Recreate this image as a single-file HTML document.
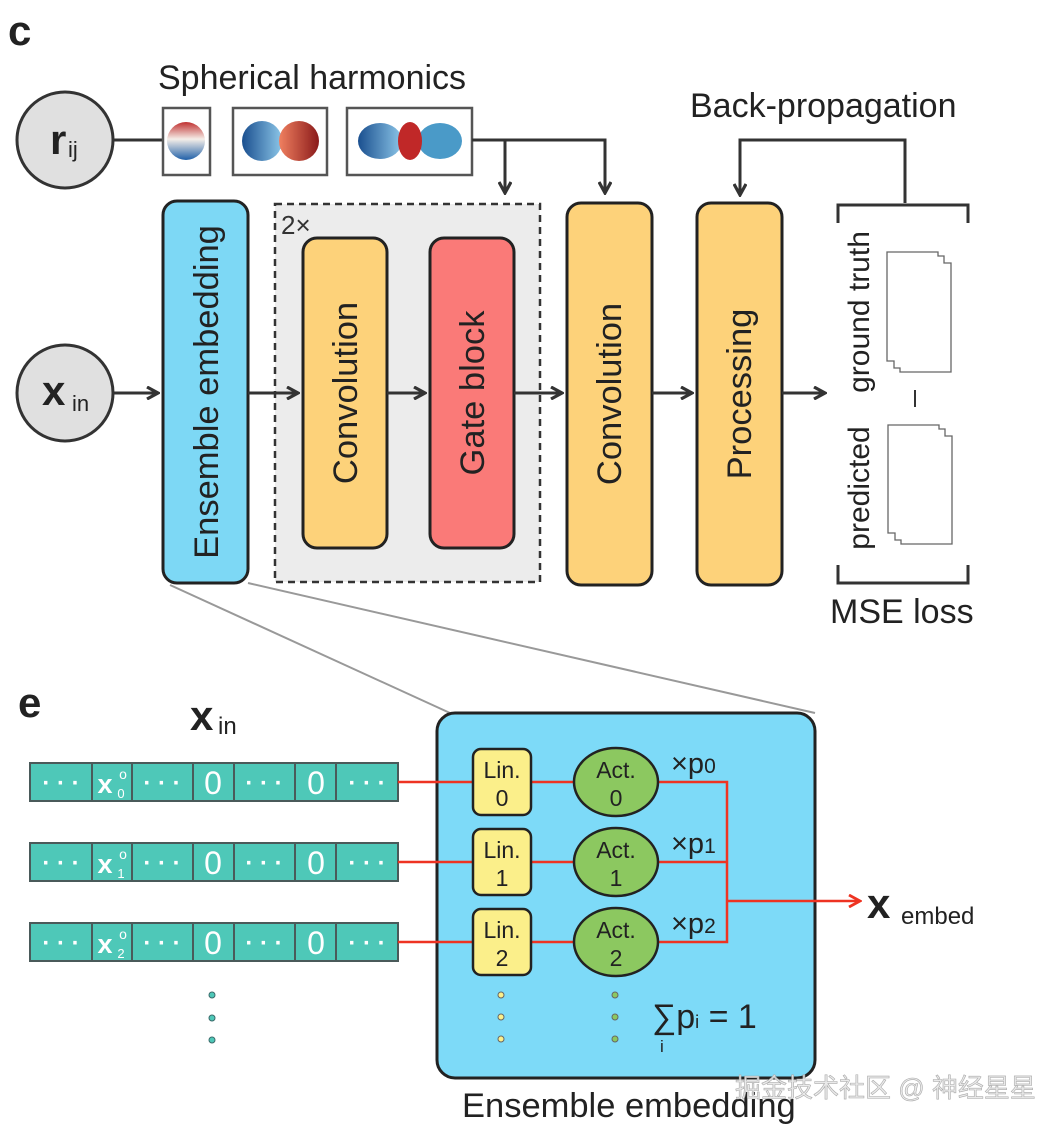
<!DOCTYPE html>
<html><head><meta charset="utf-8"><style>
html,body{margin:0;padding:0;background:#fff;width:1050px;height:1132px;overflow:hidden}
svg{display:block;font-family:"Liberation Sans","Noto Sans CJK SC",sans-serif}
</style></head><body>
<svg width="1050" height="1132" viewBox="0 0 1050 1132" xmlns="http://www.w3.org/2000/svg">
<defs>
<marker id="ar" viewBox="0 0 14 14" refX="12" refY="7" markerWidth="14" markerHeight="14" markerUnits="userSpaceOnUse" orient="auto"><path d="M1,1 L12,7 L1,13" fill="none" stroke="#333" stroke-width="3.2"/></marker>
<marker id="arr" viewBox="0 0 14 14" refX="12" refY="7" markerWidth="14" markerHeight="14" markerUnits="userSpaceOnUse" orient="auto"><path d="M1,1 L12,7 L1,13" fill="none" stroke="#ee3322" stroke-width="2.8"/></marker>
<linearGradient id="bl" x1="0" x2="1"><stop offset="0" stop-color="#1a4f8f"/><stop offset="1" stop-color="#8cc6e8"/></linearGradient>
<linearGradient id="rd" x1="0" x2="1"><stop offset="0" stop-color="#f08060"/><stop offset="1" stop-color="#8a1a1a"/></linearGradient>
<linearGradient id="sp" x1="0" y1="0" x2="0" y2="1"><stop offset="0" stop-color="#c03030"/><stop offset="0.45" stop-color="#f5eee8"/><stop offset="1" stop-color="#2060a8"/></linearGradient>
</defs>

<text x="8" y="45" font-size="42" font-weight="bold" fill="#222">c</text>
<text x="158" y="89" font-size="34" fill="#222">Spherical harmonics</text>

<line x1="112" y1="140" x2="163" y2="140" stroke="#333" stroke-width="3"/>
<circle cx="65" cy="140" r="48" fill="#e0e0e0" stroke="#333" stroke-width="3"/>
<text x="50" y="154" font-size="42" font-weight="bold" fill="#222">r</text><text x="68" y="157" font-size="22" fill="#222">ij</text>
<rect x="163" y="108" width="47" height="67" fill="#fff" stroke="#555" stroke-width="2.5"/>
<circle cx="186" cy="141" r="19" fill="url(#sp)"/>
<rect x="233" y="108" width="94" height="67" fill="#fff" stroke="#555" stroke-width="2.5"/>
<circle cx="262" cy="141" r="20" fill="url(#bl)"/><circle cx="299" cy="141" r="20" fill="url(#rd)"/>
<rect x="347" y="108" width="125" height="67" fill="#fff" stroke="#555" stroke-width="2.5"/>
<ellipse cx="380" cy="141" rx="22" ry="18" fill="url(#bl)"/><ellipse cx="440" cy="141" rx="22" ry="18" fill="#4a9ac8"/><ellipse cx="410" cy="141" rx="12" ry="19" fill="#c02828"/>
<path d="M472,140 H605 V193" fill="none" stroke="#333" stroke-width="3" marker-end="url(#ar)"/>
<path d="M505,140 V193" fill="none" stroke="#333" stroke-width="3" marker-end="url(#ar)"/>

<circle cx="65" cy="393" r="48" fill="#e0e0e0" stroke="#333" stroke-width="3"/>
<text x="42" y="405" font-size="42" font-weight="bold" fill="#222">x</text><text x="72" y="411" font-size="22" fill="#222">in</text>
<line x1="113" y1="393" x2="158" y2="393" stroke="#333" stroke-width="3" marker-end="url(#ar)"/>

<rect x="163" y="201" width="85" height="382" rx="14" fill="#7dd8f5" stroke="#222" stroke-width="3"/>
<text transform="translate(218,392) rotate(-90)" text-anchor="middle" font-size="34.5" fill="#222">Ensemble embedding</text>

<rect x="275" y="204" width="265" height="378" fill="#ececec" stroke="#333" stroke-width="2.5" stroke-dasharray="7,5"/>
<text x="281" y="234" font-size="26" fill="#333">2×</text>
<line x1="248" y1="393" x2="298" y2="393" stroke="#333" stroke-width="3" marker-end="url(#ar)"/>
<rect x="303" y="238" width="84" height="310" rx="14" fill="#fdd27a" stroke="#222" stroke-width="3"/>
<text transform="translate(357,393) rotate(-90)" text-anchor="middle" font-size="34.5" fill="#222">Convolution</text>
<line x1="387" y1="393" x2="425" y2="393" stroke="#333" stroke-width="3" marker-end="url(#ar)"/>
<rect x="430" y="238" width="84" height="310" rx="14" fill="#fa7a78" stroke="#222" stroke-width="3"/>
<text transform="translate(484,393) rotate(-90)" text-anchor="middle" font-size="34.5" fill="#222">Gate block</text>
<line x1="514" y1="393" x2="562" y2="393" stroke="#333" stroke-width="3" marker-end="url(#ar)"/>
<rect x="567" y="203" width="85" height="382" rx="14" fill="#fdd27a" stroke="#222" stroke-width="3"/>
<text transform="translate(621,394) rotate(-90)" text-anchor="middle" font-size="34.5" fill="#222">Convolution</text>
<line x1="652" y1="393" x2="692" y2="393" stroke="#333" stroke-width="3" marker-end="url(#ar)"/>
<rect x="697" y="203" width="85" height="382" rx="14" fill="#fdd27a" stroke="#222" stroke-width="3"/>
<text transform="translate(751,394) rotate(-90)" text-anchor="middle" font-size="34.5" fill="#222">Processing</text>
<line x1="782" y1="393" x2="825" y2="393" stroke="#333" stroke-width="3" marker-end="url(#ar)"/>

<text x="690" y="117" font-size="34" fill="#222">Back-propagation</text>
<path d="M905,203 V140 H740 V195" fill="none" stroke="#333" stroke-width="3" marker-end="url(#ar)"/>
<path d="M838,223 V205 H968 V223" fill="none" stroke="#333" stroke-width="3"/>
<path d="M838,565 V583 H968 V565" fill="none" stroke="#333" stroke-width="3"/>
<text transform="translate(869,312) rotate(-90)" text-anchor="middle" font-size="30" fill="#222">ground truth</text>
<text transform="translate(869,488) rotate(-90)" text-anchor="middle" font-size="30" fill="#222">predicted</text>
<path d="M887,252 H938 V256 H944 V263 H951 V372 H900 V368 H894 V361 H887 Z" fill="#fff" stroke="#666" stroke-width="1.3"/>
<path d="M888,425 H939 V429 H945 V436 H952 V544 H901 V540 H895 V533 H888 Z" fill="#fff" stroke="#666" stroke-width="1.3"/>
<line x1="915" y1="390" x2="915" y2="407" stroke="#333" stroke-width="2"/>
<text x="830" y="623" font-size="34" fill="#222">MSE loss</text>

<line x1="170" y1="585" x2="450" y2="713" stroke="#999" stroke-width="2"/>
<line x1="248" y1="583" x2="815" y2="713" stroke="#999" stroke-width="2"/>

<text x="18" y="717" font-size="42" font-weight="bold" fill="#222">e</text>
<text x="190" y="730" font-size="42" font-weight="bold" fill="#222">x</text><text x="218" y="734" font-size="24" fill="#222">in</text>

<g font-size="32" fill="#fff" text-anchor="middle">
<g>
<rect x="30" y="763" width="368" height="38" fill="#4ec8b8" stroke="#4a5a5a" stroke-width="2"/>
<path d="M92,763V801M132,763V801M193,763V801M234,763V801M295,763V801M336,763V801" stroke="#4a5a5a" stroke-width="2"/>
<text x="61" y="791" font-size="24" font-weight="bold">· · ·</text><text x="162" y="791" font-size="24" font-weight="bold">· · ·</text><text x="264" y="791" font-size="24" font-weight="bold">· · ·</text><text x="367" y="791" font-size="24" font-weight="bold">· · ·</text>
<text x="213" y="794">0</text><text x="316" y="794">0</text>
<text x="105" y="793" font-weight="bold" font-size="27">x</text><text x="123" y="779" font-size="14">o</text><text x="121" y="798" font-size="13">0</text>
</g>
<g transform="translate(0,80)">
<rect x="30" y="763" width="368" height="38" fill="#4ec8b8" stroke="#4a5a5a" stroke-width="2"/>
<path d="M92,763V801M132,763V801M193,763V801M234,763V801M295,763V801M336,763V801" stroke="#4a5a5a" stroke-width="2"/>
<text x="61" y="791" font-size="24" font-weight="bold">· · ·</text><text x="162" y="791" font-size="24" font-weight="bold">· · ·</text><text x="264" y="791" font-size="24" font-weight="bold">· · ·</text><text x="367" y="791" font-size="24" font-weight="bold">· · ·</text>
<text x="213" y="794">0</text><text x="316" y="794">0</text>
<text x="105" y="793" font-weight="bold" font-size="27">x</text><text x="123" y="779" font-size="14">o</text><text x="121" y="798" font-size="13">1</text>
</g>
<g transform="translate(0,160)">
<rect x="30" y="763" width="368" height="38" fill="#4ec8b8" stroke="#4a5a5a" stroke-width="2"/>
<path d="M92,763V801M132,763V801M193,763V801M234,763V801M295,763V801M336,763V801" stroke="#4a5a5a" stroke-width="2"/>
<text x="61" y="791" font-size="24" font-weight="bold">· · ·</text><text x="162" y="791" font-size="24" font-weight="bold">· · ·</text><text x="264" y="791" font-size="24" font-weight="bold">· · ·</text><text x="367" y="791" font-size="24" font-weight="bold">· · ·</text>
<text x="213" y="794">0</text><text x="316" y="794">0</text>
<text x="105" y="793" font-weight="bold" font-size="27">x</text><text x="123" y="779" font-size="14">o</text><text x="121" y="798" font-size="13">2</text>
</g>
</g>
<g fill="#4ec8b8" stroke="#3a6a6a" stroke-width="1"><circle cx="212" cy="995" r="3"/><circle cx="212" cy="1018" r="3"/><circle cx="212" cy="1040" r="3"/></g>

<rect x="437" y="713" width="378" height="365" rx="18" fill="#7ddaf8" stroke="#222" stroke-width="3"/>
<g stroke="#ee3322" stroke-width="2.5" fill="none">
<path d="M398,782H473M398,862H473M398,942H473"/>
<path d="M531,782H575M531,862H575M531,942H575"/>
<path d="M658,782H727V942H658M658,862H727"/>
<path d="M727,901H860" marker-end="url(#arr)"/>
</g>
<g font-size="23" fill="#222" text-anchor="middle">
<rect x="473" y="749" width="58" height="66" rx="8" fill="#fbef8a" stroke="#222" stroke-width="2.5"/>
<text x="502" y="778">Lin.</text><text x="502" y="806">0</text>
<rect x="473" y="829" width="58" height="66" rx="8" fill="#fbef8a" stroke="#222" stroke-width="2.5"/>
<text x="502" y="858">Lin.</text><text x="502" y="886">1</text>
<rect x="473" y="909" width="58" height="66" rx="8" fill="#fbef8a" stroke="#222" stroke-width="2.5"/>
<text x="502" y="938">Lin.</text><text x="502" y="966">2</text>
<ellipse cx="616" cy="782" rx="42" ry="34" fill="#8cc860" stroke="#222" stroke-width="2.5"/>
<text x="616" y="778">Act.</text><text x="616" y="806">0</text>
<ellipse cx="616" cy="862" rx="42" ry="34" fill="#8cc860" stroke="#222" stroke-width="2.5"/>
<text x="616" y="858">Act.</text><text x="616" y="886">1</text>
<ellipse cx="616" cy="942" rx="42" ry="34" fill="#8cc860" stroke="#222" stroke-width="2.5"/>
<text x="616" y="938">Act.</text><text x="616" y="966">2</text>
</g>
<g font-size="29" fill="#222">
<text x="671" y="773">×p<tspan font-size="21">0</tspan></text>
<text x="671" y="853">×p<tspan font-size="21">1</tspan></text>
<text x="671" y="933">×p<tspan font-size="21">2</tspan></text>
<text x="652" y="1028" font-size="34">∑p<tspan font-size="18">i</tspan> = 1</text>
<text x="660" y="1052" font-size="17">i</text>
</g>
<g fill="#fbef8a" stroke="#666" stroke-width="1"><circle cx="501" cy="995" r="3"/><circle cx="501" cy="1017" r="3"/><circle cx="501" cy="1039" r="3"/></g>
<g fill="#8cc860" stroke="#666" stroke-width="1"><circle cx="615" cy="995" r="3"/><circle cx="615" cy="1017" r="3"/><circle cx="615" cy="1039" r="3"/></g>
<text x="867" y="918" font-size="42" font-weight="bold" fill="#222">x</text>
<text x="901" y="924" font-size="24" fill="#222">embed</text>
<text x="462" y="1117" font-size="34.5" fill="#222">Ensemble embedding</text>
<text x="735" y="1097" font-size="26" fill="#e8e8e8" stroke="#aaa" stroke-width="0.6" fill-opacity="0.9">掘金技术社区 @ 神经星星</text>
</svg>
</body></html>
